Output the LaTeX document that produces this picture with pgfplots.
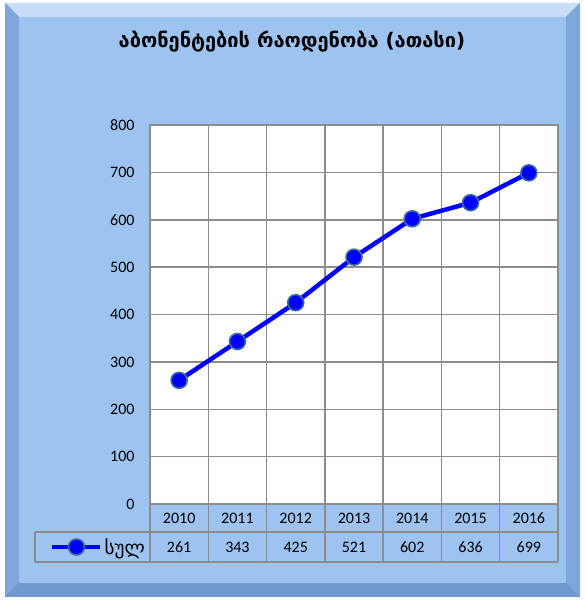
\documentclass[border=0pt]{standalone}
\usepackage{pgfplots}
\pgfplotsset{compat=1.18}
\usepackage{fontspec}
\setmainfont{Carlito}
\newfontfamily\geo[Script=Georgian]{DejaVu Sans}
\definecolor{face}{HTML}{9DC3F0}
\definecolor{edge}{HTML}{5F8CC2}
\definecolor{topbev}{HTML}{C6DEF8}
\definecolor{sidebev}{HTML}{7EA8DB}
\definecolor{botbev}{HTML}{7199CE}
\definecolor{gridc}{HTML}{8C8C8C}
\definecolor{markedge}{HTML}{3A6C9C}

\begin{document}
\begin{tikzpicture}[x=1pt,y=1pt]
% frame
\fill[white] (0,0) rectangle (584,600);
\fill[edge] (5,3) rectangle (580,597);
\fill[topbev] (5,597) -- (580,597) -- (566,583) -- (19,583) -- cycle;
\fill[sidebev] (5,3) -- (5,597) -- (19,583) -- (19,17) -- cycle;
\fill[sidebev] (580,3) -- (580,597) -- (566,583) -- (566,17) -- cycle;
\fill[botbev] (5,3) -- (580,3) -- (566,17) -- (19,17) -- cycle;
\fill[face] (19,17) rectangle (566,583);

\node[font=\geo\bfseries\fontsize{20}{24}\selectfont] at (292,558) {აბონენტების რაოდენობა (ათასი)};

\begin{axis}[
    at={(150pt,96pt)}, anchor=south west,
    scale only axis, width=408pt, height=379pt,
    xmin=-0.5, xmax=6.5, ymin=0, ymax=800,
    ytick distance=100,
    xtick={0,...,6},
    xticklabels={2010,2011,2012,2013,2014,2015,2016},
    minor xtick={0.5,1.5,...,5.5},
    ymajorgrids, xminorgrids,
    major tick length=0pt, minor tick length=0pt,
    grid style={gridc, line width=1.5pt},
    minor grid style={gridc, line width=1.5pt},
    axis line style={gridc, line width=1.5pt},
    axis background/.style={fill=white},
    tick label style={font=\fontsize{16}{19}\selectfont},
    /pgf/number format/assume math mode=true,
    yticklabel style={xshift=-12pt},
    xticklabel style={anchor=center, yshift=-14pt},
    clip=false,
    legend style={at={(axis description cs:-0.0074,-0.1135)}, anchor=east,
        draw=none, fill=none, font=\geo\fontsize{19}{22}\selectfont,
        inner sep=0pt},
    legend image code/.code={
        \draw[#1, mark=none] (0pt,0pt) -- (48pt,0pt);
        \draw[#1] plot coordinates {(24pt,0pt)};
    },
]
\addplot[color=blue, line width=4.5pt, mark=*, mark size=8pt,
    mark options={fill=blue, draw=markedge, line width=1.6pt}] coordinates {
    (0,261) (1,343) (2,425) (3,521) (4,602) (5,636) (6,699)
};
\legend{სულ}
\end{axis}

% data table
\foreach \k in {0,...,7}
  \draw[gridc, line width=1.5pt] ({150+408/7*\k},38) -- ({150+408/7*\k},96);
\draw[gridc, line width=1.5pt] (35,68) -- (558,68);
\draw[gridc, line width=1.5pt] (35,38) -- (558,38);
\draw[gridc, line width=1.5pt] (35,38) -- (35,68);
\foreach \v [count=\k from 0] in {261,343,425,521,602,636,699}
  \node[font=\fontsize{16}{19}\selectfont] at ({150+408/7*(\k+0.5)},53) {\v};
\end{tikzpicture}
\end{document}
